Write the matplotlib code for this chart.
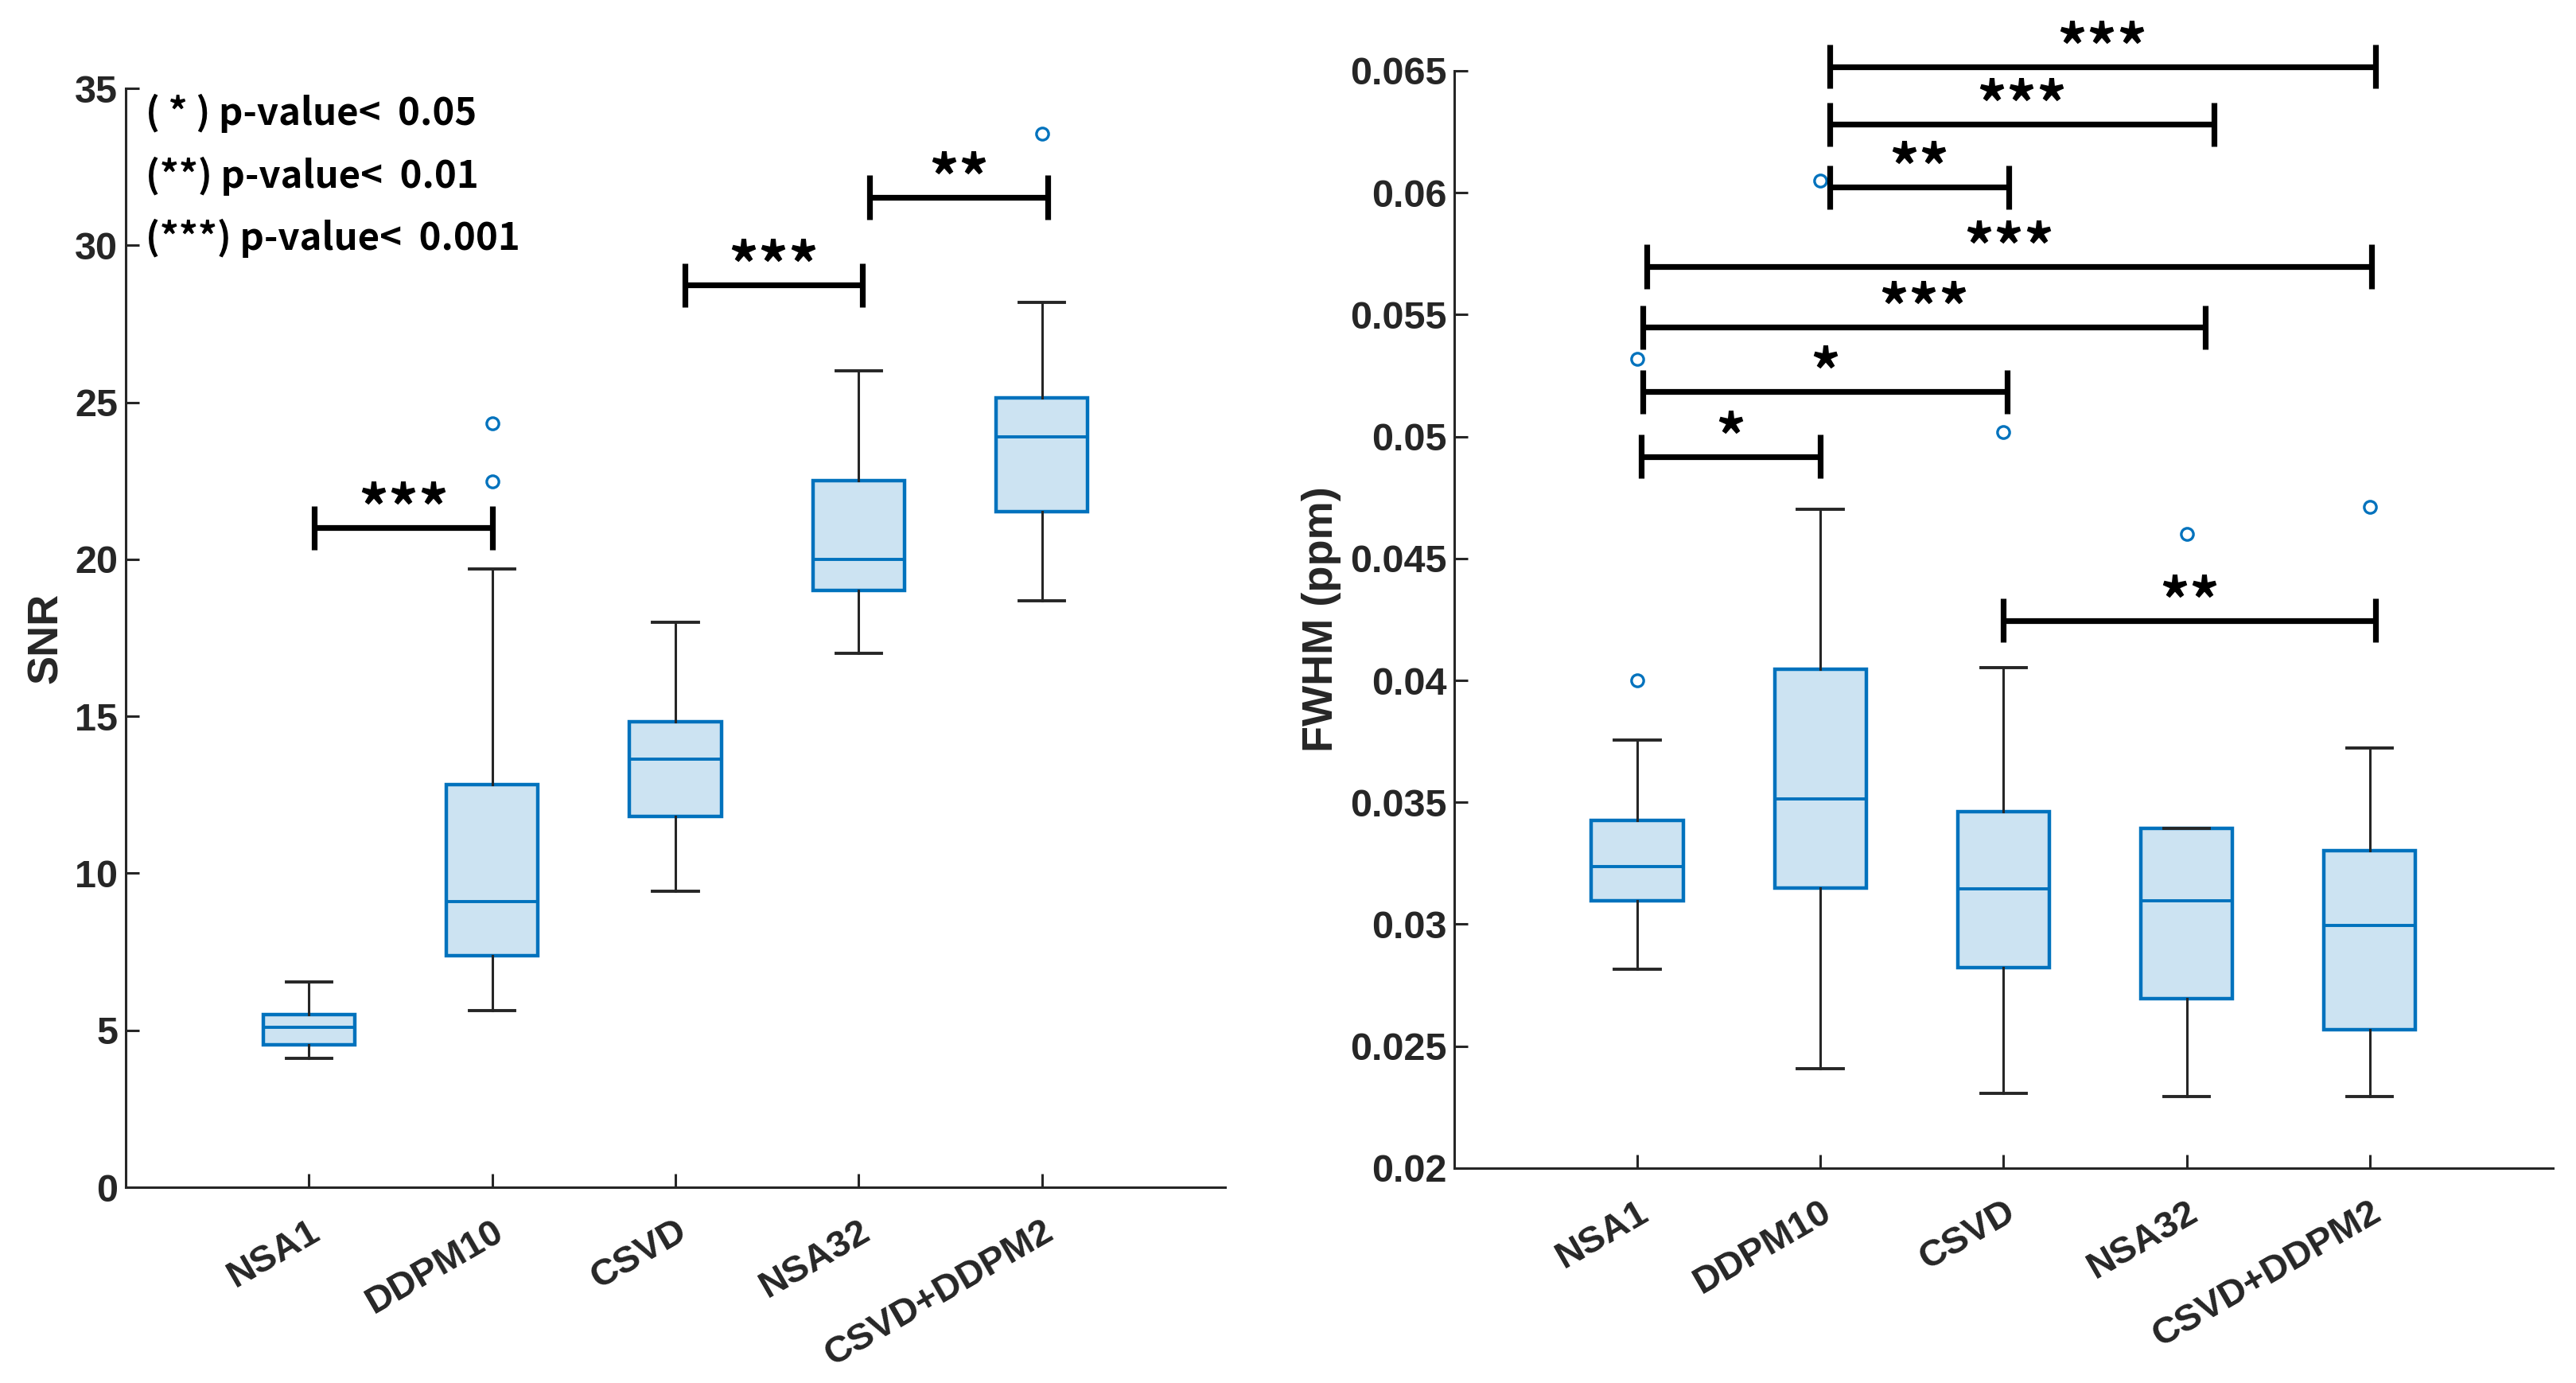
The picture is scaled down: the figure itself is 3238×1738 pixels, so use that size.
import matplotlib
matplotlib.use("Agg")
import matplotlib.pyplot as plt
from matplotlib.transforms import ScaledTranslation

# group names
groups = ["NSA1", "DDPM10", "CSVD", "NSA32", "CSVD+DDPM2"]

# SNR box stats
snr_whislo = [4.12, 5.63, 9.44, 17.02, 18.68]
snr_q1 = [4.55, 7.37, 11.80, 19.01, 21.52]
snr_med = [5.09, 9.09, 13.64, 20.0, 23.91]
snr_q3 = [5.49, 12.82, 14.83, 22.51, 25.14]
snr_whishi = [6.54, 19.70, 18.0, 26.0, 28.19]
snr_fliers = [[], [22.48, 24.34], [], [], [33.55]]

# FWHM box stats
fwhm_whislo = [0.02817, 0.02407, 0.02306, 0.02295, 0.02295]
fwhm_q1 = [0.03095, 0.03149, 0.02823, 0.02696, 0.02567]
fwhm_med = [0.03235, 0.03513, 0.03144, 0.03095, 0.02996]
fwhm_q3 = [0.03425, 0.04045, 0.03461, 0.03394, 0.03302]
fwhm_whishi = [0.03754, 0.04702, 0.04054, 0.03394, 0.03724]
fwhm_fliers = [[0.0400, 0.0532], [0.0605], [0.0502], [0.0460], [0.0471]]

# significance brackets: (x start, x end, y, label)
snr_sig = [(1.03, 2.0, 21.0, "***"),
           (3.05, 4.02, 28.73, "***"),
           (4.06, 5.03, 31.53, "**")]
fwhm_sig = [(1.02, 2.0, 0.04918, "*"),
            (1.03, 3.02, 0.05184, "*"),
            (1.03, 4.10, 0.05448, "***"),
            (1.05, 5.01, 0.05697, "***"),
            (2.05, 3.03, 0.06022, "**"),
            (2.05, 4.15, 0.06281, "***"),
            (2.05, 5.03, 0.06517, "***"),
            (3.0, 5.03, 0.04246, "**")]

legend_lines = ["( * ) p-value<  0.05", "(**) p-value<  0.01", "(***) p-value<  0.001"]

BLUE = "#0072BD"
FILL = "#CCE3F2"
DARK = "#262626"
CJK = ["Noto Sans CJK SC", "DejaVu Sans"]


def draw_boxes(ax, whislo, q1, med, q3, whishi, fliers):
    stats = []
    for i in range(len(groups)):
        stats.append({"whislo": whislo[i], "q1": q1[i], "med": med[i], "q3": q3[i],
                      "whishi": whishi[i], "fliers": fliers[i]})
    ax.bxp(stats, positions=range(1, len(groups) + 1), widths=0.5, patch_artist=True,
           capwidths=0.25,
           boxprops=dict(facecolor=FILL, edgecolor=BLUE, linewidth=1.6),
           medianprops=dict(color=BLUE, linewidth=1.4),
           whiskerprops=dict(color=DARK, linewidth=1.1),
           capprops=dict(color=DARK, linewidth=1.4),
           flierprops=dict(marker="o", markerfacecolor="none", markeredgecolor=BLUE,
                           markersize=5.5, markeredgewidth=1.2))


def draw_sig(ax, sig, half):
    for x0, x1, y, lab in sig:
        ax.plot([x0, x1], [y, y], color="black", lw=2.6, solid_capstyle="butt",
                zorder=5, clip_on=False)
        ax.vlines([x0, x1], y - half, y + half, color="black", lw=2.6, zorder=5, clip_on=False)
        ax.annotate(lab, xy=((x0 + x1) / 2, y), xytext=(0, -1), textcoords="offset points",
                    ha="center", va="baseline", fontsize=27, family=CJK,
                    fontweight="bold", annotation_clip=False)


def style(ax, ylabel):
    ax.spines["top"].set_visible(False)
    ax.spines["right"].set_visible(False)
    for s in ["left", "bottom"]:
        ax.spines[s].set_color(DARK)
        ax.spines[s].set_linewidth(1.1)
    ax.set_xlim(0, 6)
    ax.set_xticks(range(1, len(groups) + 1))
    ax.set_xticklabels(groups, rotation=30, ha="right", va="top", rotation_mode="anchor",
                       fontsize=17, fontweight="bold", family="Liberation Sans")
    shift = ScaledTranslation(6 / 72, 0, fig.dpi_scale_trans)
    for t in ax.get_xticklabels():
        t.set_transform(t.get_transform() + shift)
    ax.tick_params(direction="in", length=6, width=1.1, color=DARK, labelcolor=DARK)
    ax.tick_params(axis="x", pad=12)
    for t in ax.get_yticklabels():
        t.set_fontsize(17.5)
        t.set_fontweight("bold")
        t.set_family("Liberation Sans")
    ax.set_ylabel(ylabel, fontsize=19.5, fontweight="bold", family="Liberation Sans", color=DARK)


fig = plt.figure(figsize=(16.19, 8.69), dpi=200)

ax1 = fig.add_axes([0.0488, 0.1415, 0.4268, 0.7946])
draw_boxes(ax1, snr_whislo, snr_q1, snr_med, snr_q3, snr_whishi, snr_fliers)
ax1.set_ylim(0, 35)
ax1.set_yticks(range(0, 36, 5))
style(ax1, "SNR")
draw_sig(ax1, snr_sig, 0.7)
for i, line in enumerate(legend_lines):
    ax1.text(0.018, 0.977 - i * 0.0568, line, transform=ax1.transAxes, fontsize=17,
             fontweight="bold", family=CJK, va="center")

ax2 = fig.add_axes([0.5645, 0.1554, 0.4265, 0.7934])
draw_boxes(ax2, fwhm_whislo, fwhm_q1, fwhm_med, fwhm_q3, fwhm_whishi, fwhm_fliers)
ax2.set_ylim(0.02, 0.065)
ax2.set_yticks([0.02, 0.025, 0.03, 0.035, 0.04, 0.045, 0.05, 0.055, 0.06, 0.065])
ax2.set_yticklabels(["0.02", "0.025", "0.03", "0.035", "0.04", "0.045", "0.05", "0.055", "0.06", "0.065"])
style(ax2, "FWHM (ppm)")
draw_sig(ax2, fwhm_sig, 0.0009)

fig.savefig("out.png", dpi=200)
